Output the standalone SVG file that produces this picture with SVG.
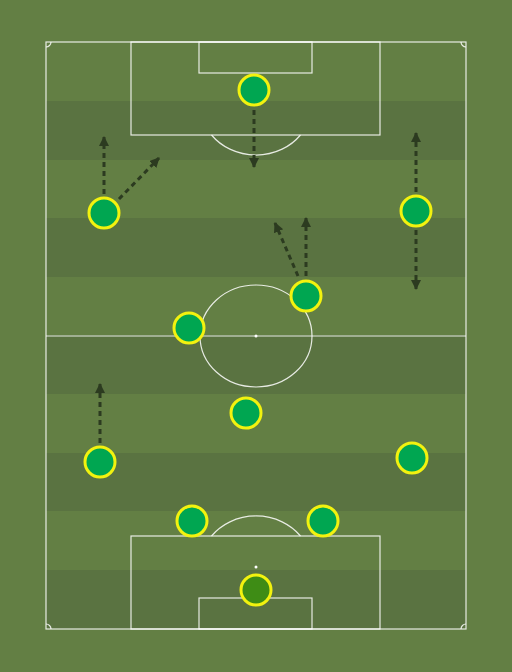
<svg xmlns="http://www.w3.org/2000/svg" width="512" height="672" viewBox="0 0 512 672">
<style>
.ln{fill:none;stroke:#fff;stroke-width:1.2;stroke-opacity:0.85}
.stripe{fill:#5a7341}
.mv{fill:none;stroke:#2c3b20;stroke-width:3;stroke-dasharray:5 4;marker-end:url(#ah)}
.pl{fill:#00a651;stroke:#f2f20f;stroke-width:3}
.gk{fill:#3e8c15;stroke:#f2f20f;stroke-width:3}
</style>
<defs>
<marker id="ah" markerUnits="userSpaceOnUse" markerWidth="12" markerHeight="12" refX="9" refY="5" orient="auto">
<path d="M0,0 L10,5 L0,10 Z" fill="#2c3b20"/>
</marker>
</defs>
<rect width="512" height="672" fill="#637f44"/>
<g id="pitch">
<rect class="stripe" x="46" y="101" width="420" height="59"/>
<rect class="stripe" x="46" y="218" width="420" height="59"/>
<rect class="stripe" x="46" y="335" width="420" height="59"/>
<rect class="stripe" x="46" y="453" width="420" height="58"/>
<rect class="stripe" x="46" y="570" width="420" height="59"/>
<rect class="ln" x="46" y="42" width="420" height="587"/>
<line class="ln" x1="46" y1="336" x2="466" y2="336"/>
<ellipse class="ln" cx="256" cy="336" rx="56" ry="51"/>
<circle cx="256" cy="336" r="1.5" fill="#fff"/>
<rect class="ln" x="131" y="42" width="249" height="93"/>
<rect class="ln" x="199" y="42" width="113" height="31"/>
<path class="ln" d="M211.5,135 A56,51 0 0 0 300.5,135"/>
<circle cx="256" cy="104" r="1.5" fill="#fff"/>
<rect class="ln" x="131" y="536" width="249" height="93"/>
<rect class="ln" x="199" y="598" width="113" height="31"/>
<path class="ln" d="M211.5,536 A56,51 0 0 1 300.5,536"/>
<circle cx="256" cy="567" r="1.5" fill="#fff"/>
<path class="ln" d="M46,47 A5,5 0 0 0 51,42"/>
<path class="ln" d="M461,42 A5,5 0 0 0 466,47"/>
<path class="ln" d="M46,624 A5,5 0 0 1 51,629"/>
<path class="ln" d="M461,629 A5,5 0 0 1 466,624"/>
</g>
<g id="connectors">
<line class="mv" x1="254" y1="110" x2="254" y2="167"/>
<line class="mv" x1="104" y1="194" x2="104" y2="137"/>
<line class="mv" x1="119" y1="199" x2="159" y2="158"/>
<line class="mv" x1="306" y1="276" x2="306" y2="218"/>
<line class="mv" x1="298" y1="276" x2="275" y2="223"/>
<line class="mv" x1="416" y1="192" x2="416" y2="133"/>
<line class="mv" x1="416" y1="230" x2="416" y2="289"/>
<line class="mv" x1="100" y1="443" x2="100" y2="384"/>
</g>
<g id="p1"><circle class="pl" cx="254" cy="90" r="15"/></g>
<g id="p2"><circle class="pl" cx="104" cy="213" r="15"/></g>
<g id="p3"><circle class="pl" cx="416" cy="211" r="15"/></g>
<g id="p4"><circle class="pl" cx="306" cy="296" r="15"/></g>
<g id="p5"><circle class="pl" cx="189" cy="328" r="15"/></g>
<g id="p6"><circle class="pl" cx="246" cy="413" r="15"/></g>
<g id="p7"><circle class="pl" cx="100" cy="462" r="15"/></g>
<g id="p8"><circle class="pl" cx="412" cy="458" r="15"/></g>
<g id="p9"><circle class="pl" cx="192" cy="521" r="15"/></g>
<g id="p10"><circle class="pl" cx="323" cy="521" r="15"/></g>
<g id="gk"><circle class="gk" cx="256" cy="590" r="15"/></g>
</svg>
